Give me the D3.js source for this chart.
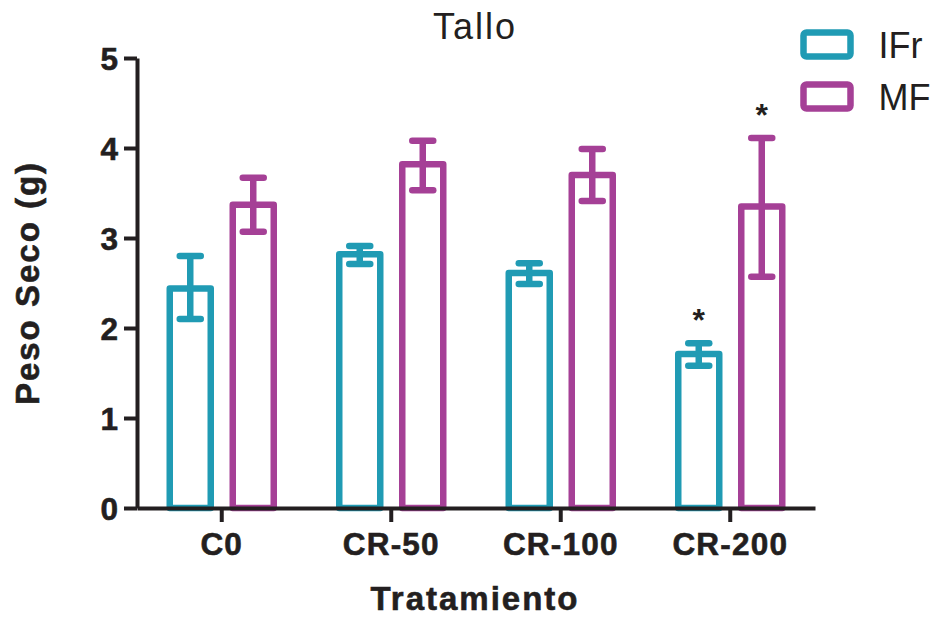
<!DOCTYPE html>
<html>
<head>
<meta charset="utf-8">
<script src="https://cdn.jsdelivr.net/npm/d3@7"></script>
<style>
  body { margin: 0; background: #fff; }
  svg { display: block; }
  text { font-family: Arial, "Liberation Sans", Helvetica, sans-serif; fill: #231f20; }
</style>
</head>
<body>
<svg id="chart" width="933" height="617"></svg>
<script>
const categories = ["C0", "CR-50", "CR-100", "CR-200"];
const series = ["IFr", "MF"];
const ifrMean = [2.44, 2.82, 2.61, 1.71];
const ifrHigh = [2.80, 2.91, 2.72, 1.83];
const ifrLow  = [2.10, 2.71, 2.49, 1.58];
const mfMean  = [3.37, 3.82, 3.70, 3.35];
const mfHigh  = [3.67, 4.08, 3.99, 4.11];
const mfLow   = [3.07, 3.53, 3.41, 2.57];
const ifrSig  = [false, false, false, true];
const mfSig   = [false, false, false, true];
const yTicks  = [0, 1, 2, 3, 4, 5];
const colors  = { IFr: "#209bb4", MF: "#a54096" };

const rows = [];
categories.forEach((c, i) => {
  rows.push({ cat: c, s: "IFr", v: ifrMean[i], hi: ifrHigh[i], lo: ifrLow[i], sig: ifrSig[i] });
  rows.push({ cat: c, s: "MF", v: mfMean[i], hi: mfHigh[i], lo: mfLow[i], sig: mfSig[i] });
});

const svg = d3.select("#chart");
const x = d3.scaleBand().domain(categories).range([137, 815]).padding(0);
const xSub = d3.scaleBand().domain(series).range([-63, 63]).padding(0);
const y = d3.scaleLinear().domain([0, 5]).range([508, 58]);
const barW = 41;
const cx = d => x(d.cat) + x.bandwidth() / 2 + xSub(d.s) + xSub.bandwidth() / 2;

// bars
svg.append("g").selectAll("rect").data(rows).join("rect")
  .attr("x", d => cx(d) - barW / 2)
  .attr("y", d => y(d.v))
  .attr("width", barW)
  .attr("height", d => y(0) - y(d.v))
  .attr("fill", "none")
  .attr("stroke", d => colors[d.s])
  .attr("stroke-width", 6.5)
  .attr("stroke-linejoin", "round");

// error bars
const eb = svg.append("g").selectAll("g").data(rows).join("g")
  .attr("stroke", d => colors[d.s]).attr("stroke-width", 6.5).attr("stroke-linecap", "round");
eb.append("line").attr("x1", cx).attr("x2", cx).attr("y1", d => y(d.lo)).attr("y2", d => y(d.hi)).attr("stroke-linecap", "butt");
eb.append("line").attr("x1", d => cx(d) - 10.5).attr("x2", d => cx(d) + 10.5).attr("y1", d => y(d.hi)).attr("y2", d => y(d.hi));
eb.append("line").attr("x1", d => cx(d) - 10.5).attr("x2", d => cx(d) + 10.5).attr("y1", d => y(d.lo)).attr("y2", d => y(d.lo));

// significance
svg.append("g").selectAll("text").data(rows.filter(d => d.sig)).join("text")
  .attr("x", cx).attr("y", d => y(d.hi) - 12)
  .attr("text-anchor", "middle").attr("font-size", 32).attr("font-weight", "bold")
  .text("*");

// axes
const yAxis = svg.append("g").attr("transform", "translate(137,0)")
  .call(d3.axisLeft(y).tickValues(yTicks).tickFormat(d3.format("d")).tickSize(13).tickSizeOuter(0).tickPadding(6));
const xAxis = svg.append("g").attr("transform", "translate(0,508)")
  .call(d3.axisBottom(x).tickSize(14).tickSizeOuter(0).tickPadding(11));
[yAxis, xAxis].forEach(a => {
  a.selectAll("path.domain").attr("stroke", "#231f20").attr("stroke-width", 4);
  a.selectAll(".tick line").attr("stroke", "#231f20").attr("stroke-width", 4);
  a.selectAll(".tick text").attr("font-family", "Arial, 'Liberation Sans', sans-serif")
    .attr("font-size", 31.5).attr("font-weight", "bold").attr("fill", "#231f20")
    .attr("stroke", "#231f20").attr("stroke-width", 0.6);
});
yAxis.selectAll(".tick text").attr("dy", "0.36em");
xAxis.selectAll(".tick text").attr("letter-spacing", 1.2);

// titles
svg.append("text").attr("x", 475).attr("y", 39).attr("text-anchor", "middle")
  .attr("font-size", 36).attr("letter-spacing", 2).text("Tallo");
svg.append("text").attr("x", 475).attr("y", 610).attr("text-anchor", "middle")
  .attr("font-size", 33).attr("font-weight", "bold").attr("letter-spacing", 2)
  .attr("stroke", "#231f20").attr("stroke-width", 0.6).text("Tratamiento");
svg.append("text").attr("transform", "translate(39,283) rotate(-90)").attr("text-anchor", "middle")
  .attr("font-size", 33).attr("font-weight", "bold").attr("letter-spacing", 2)
  .attr("stroke", "#231f20").attr("stroke-width", 0.6).text("Peso Seco (g)");

// legend
const leg = svg.append("g").selectAll("g").data(series).join("g")
  .attr("transform", (d, i) => `translate(803.5,${32.5 + i * 52})`);
leg.append("rect").attr("width", 47).attr("height", 24).attr("rx", 3)
  .attr("fill", "none").attr("stroke", d => colors[d]).attr("stroke-width", 6.5);
leg.append("text").attr("x", 75).attr("y", 25.5).attr("font-size", 36).text(d => d);
</script>
</body>
</html>
